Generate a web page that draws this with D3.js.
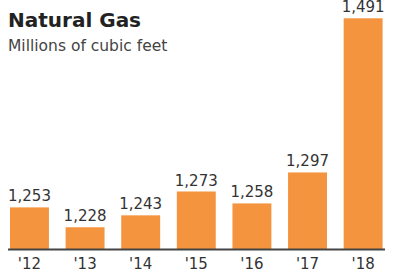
<!DOCTYPE html>
<html>
<head>
<meta charset="utf-8">
<script src="https://cdn.jsdelivr.net/npm/d3@7"></script>
<style>
  body { margin: 0; background: #fff; }
  text { font-family: "DejaVu Sans", sans-serif; }
</style>
</head>
<body>
<script>
// data
var years = ["'12", "'13", "'14", "'15", "'16", "'17", "'18"];
var values = [1253, 1228, 1243, 1273, 1258, 1297, 1491];

var width = 395, height = 273;
var baseline = 249.5;

var svg = d3.select("body").append("svg")
    .attr("width", width)
    .attr("height", height);

// scales
var x = d3.scaleBand()
    .domain(years)
    .range([10, 382.6])
    .paddingInner(0.3)
    .paddingOuter(0);

var y = d3.scaleLinear()
    .domain([1200, 1491])
    .range([baseline, 18.3]);

// title
svg.append("text")
    .attr("x", 8)
    .attr("y", 27)
    .attr("font-size", 20)
    .attr("font-weight", "bold")
    .attr("fill", "#222")
    .text("Natural Gas");

svg.append("text")
    .attr("x", 8)
    .attr("y", 51)
    .attr("font-size", 15.5)
    .attr("fill", "#444")
    .text("Millions of cubic feet");

// bars
svg.selectAll("rect.bar")
    .data(values)
    .enter().append("rect")
    .attr("class", "bar")
    .attr("x", function(d, i) { return x(years[i]); })
    .attr("width", x.bandwidth())
    .attr("y", function(d) { return y(d); })
    .attr("height", function(d) { return baseline - y(d); })
    .attr("fill", "#f4943f");

// value labels
svg.selectAll("text.val")
    .data(values)
    .enter().append("text")
    .attr("class", "val")
    .attr("x", function(d, i) { return x(years[i]) + x.bandwidth() / 2; })
    .attr("y", function(d) { return y(d) - 6; })
    .attr("text-anchor", "middle")
    .attr("font-size", 15)
    .attr("fill", "#333")
    .text(function(d) { return d3.format(",")(d); });

// x axis
var xAxis = svg.append("g")
    .attr("transform", "translate(0," + baseline + ")")
    .call(d3.axisBottom(x).tickSize(0).tickPadding(6));

xAxis.select(".domain")
    .attr("d", "M8,0H385")
    .attr("stroke", "#444")
    .attr("stroke-width", 2);

xAxis.selectAll("text")
    .attr("font-size", 15)
    .attr("font-family", "DejaVu Sans, sans-serif")
    .attr("fill", "#333")
    .attr("dy", "0.9em");
</script>
</body>
</html>
